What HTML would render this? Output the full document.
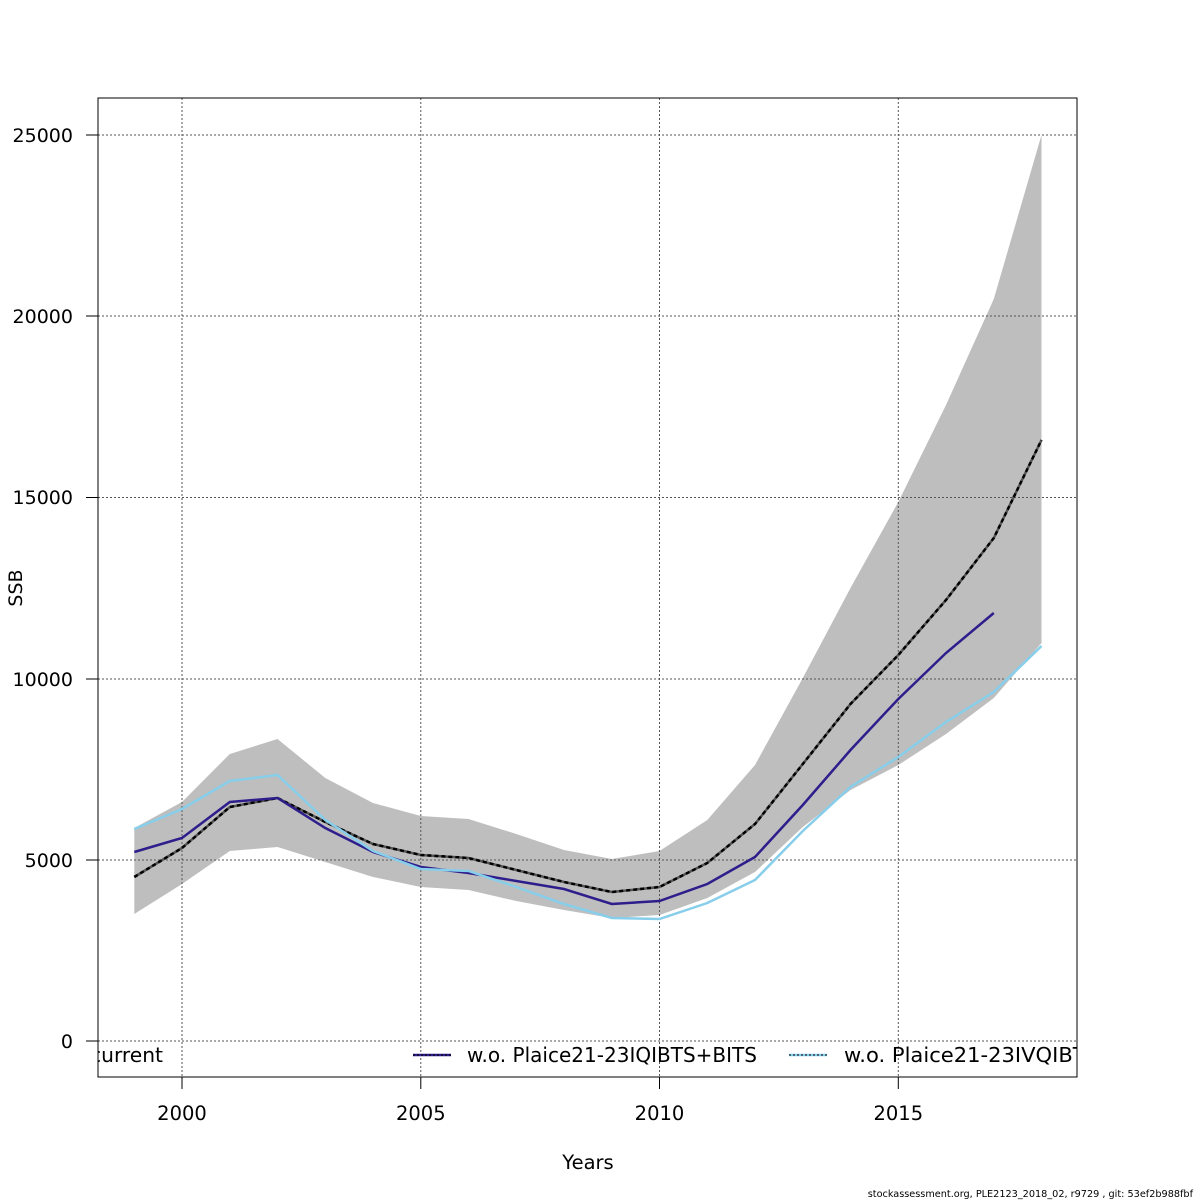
<!DOCTYPE html>
<html><head><meta charset="utf-8"><style>body{margin:0;background:#fff}svg{display:block}</style></head><body>
<svg width="1200" height="1200" xmlns="http://www.w3.org/2000/svg" font-family="DejaVu Sans, sans-serif">
<rect width="1200" height="1200" fill="#fff"/>
<polygon fill="#bebebe" points="134.3,828 182,802 229.8,754 277.5,739 325.3,778 373,803 420.8,816 468.5,819 516.3,834 564,850 611.8,859 659.5,851 707.3,820 755,765 802.8,678 850.5,588 898.3,502 946,405 993.8,299 1041.5,135 1041.5,643 993.8,698 946,734 898.3,765 850.5,790 802.8,827 755,872 707.3,898 659.5,915 611.8,918 564,910 516.3,901 468.5,890 420.8,887 373,877 325.3,862 277.5,847 229.8,851 182,884 134.3,914"/>
<g stroke="#555" stroke-width="1" stroke-dasharray="2,2" fill="none">
<line x1="182" y1="98" x2="182" y2="1077"/><line x1="420.8" y1="98" x2="420.8" y2="1077"/><line x1="659.5" y1="98" x2="659.5" y2="1077"/><line x1="898.3" y1="98" x2="898.3" y2="1077"/>
<line x1="98" y1="135" x2="1077" y2="135"/><line x1="98" y1="316" x2="1077" y2="316"/><line x1="98" y1="497.5" x2="1077" y2="497.5"/><line x1="98" y1="679" x2="1077" y2="679"/><line x1="98" y1="860" x2="1077" y2="860"/><line x1="98" y1="1041" x2="1077" y2="1041"/>
</g>
<polyline fill="none" stroke="#555" stroke-width="2.5" points="134.3,877 182,848 229.8,807 277.5,798 325.3,822 373,844 420.8,855 468.5,858 516.3,870 564,882 611.8,892 659.5,887 707.3,863 755,824 802.8,764 850.5,704 898.3,655 946,600 993.8,538 1041.5,440"/>
<polyline fill="none" stroke="#000" stroke-width="2.5" stroke-dasharray="4,3" points="134.3,877 182,848 229.8,807 277.5,798 325.3,822 373,844 420.8,855 468.5,858 516.3,870 564,882 611.8,892 659.5,887 707.3,863 755,824 802.8,764 850.5,704 898.3,655 946,600 993.8,538 1041.5,440"/>
<polyline fill="none" stroke="#2d1e8c" stroke-width="2.5" points="134.3,852 182,838 229.8,802 277.5,798 325.3,828 373,852 420.8,867 468.5,873 516.3,881 564,889 611.8,904 659.5,901 707.3,884 755,857 802.8,805 850.5,750 898.3,699 946,653 993.8,613"/>
<polyline fill="none" stroke="#87ceeb" stroke-width="2.5" points="134.3,829 182,809 229.8,781 277.5,775 325.3,820 373,851 420.8,869 468.5,871 516.3,887 564,904 611.8,918 659.5,919 707.3,903 755,880 802.8,831 850.5,787 898.3,757 946,722 993.8,692 1041.5,646"/>
<rect x="98" y="98" width="979" height="979" fill="none" stroke="#000" stroke-width="1"/>
<g stroke="#000" stroke-width="1">
<line x1="182" y1="1077" x2="182" y2="1089"/><line x1="420.8" y1="1077" x2="420.8" y2="1089"/><line x1="659.5" y1="1077" x2="659.5" y2="1089"/><line x1="898.3" y1="1077" x2="898.3" y2="1089"/>
<line x1="86" y1="135" x2="98" y2="135"/><line x1="86" y1="316" x2="98" y2="316"/><line x1="86" y1="497.5" x2="98" y2="497.5"/><line x1="86" y1="679" x2="98" y2="679"/><line x1="86" y1="860" x2="98" y2="860"/><line x1="86" y1="1041" x2="98" y2="1041"/>
</g>
<g font-size="19" fill="#000">
<g text-anchor="end"><text x="73" y="142">25000</text><text x="73" y="323">20000</text><text x="73" y="504">15000</text><text x="73" y="686">10000</text><text x="73" y="867">5000</text><text x="73" y="1048">0</text></g>
<g text-anchor="middle" font-size="19.5"><text x="182" y="1120">2000</text><text x="420.8" y="1120">2005</text><text x="659.5" y="1120">2010</text><text x="898.3" y="1120">2015</text>
<text x="588" y="1169">Years</text></g>
<text transform="translate(22,588) rotate(-90)" text-anchor="middle">SSB</text>
</g>
<svg x="98" y="1030" width="979" height="46">
<g font-size="20" fill="#000">
<text x="-8" y="32" textLength="73" lengthAdjust="spacingAndGlyphs">current</text>
<line x1="315" y1="25" x2="353" y2="25" stroke="#2d1e8c" stroke-width="2.5"/>
<line x1="315" y1="25" x2="353" y2="25" stroke="#000" stroke-width="1" stroke-dasharray="2,2"/>
<text x="369" y="32" textLength="290" lengthAdjust="spacingAndGlyphs">w.o. Plaice21-23IQIBTS+BITS</text>
<line x1="691" y1="25" x2="729" y2="25" stroke="#87ceeb" stroke-width="2.5"/>
<line x1="691" y1="25" x2="729" y2="25" stroke="#000" stroke-width="1" stroke-dasharray="2,2"/>
<text x="746" y="32" textLength="255" lengthAdjust="spacingAndGlyphs">w.o. Plaice21-23IVQIBTS</text>
</g>
</svg>
<text x="1193" y="1197" font-size="9.7" text-anchor="end" fill="#000">stockassessment.org, PLE2123_2018_02, r9729 , git: 53ef2b988fbf</text>
</svg>
</body></html>
